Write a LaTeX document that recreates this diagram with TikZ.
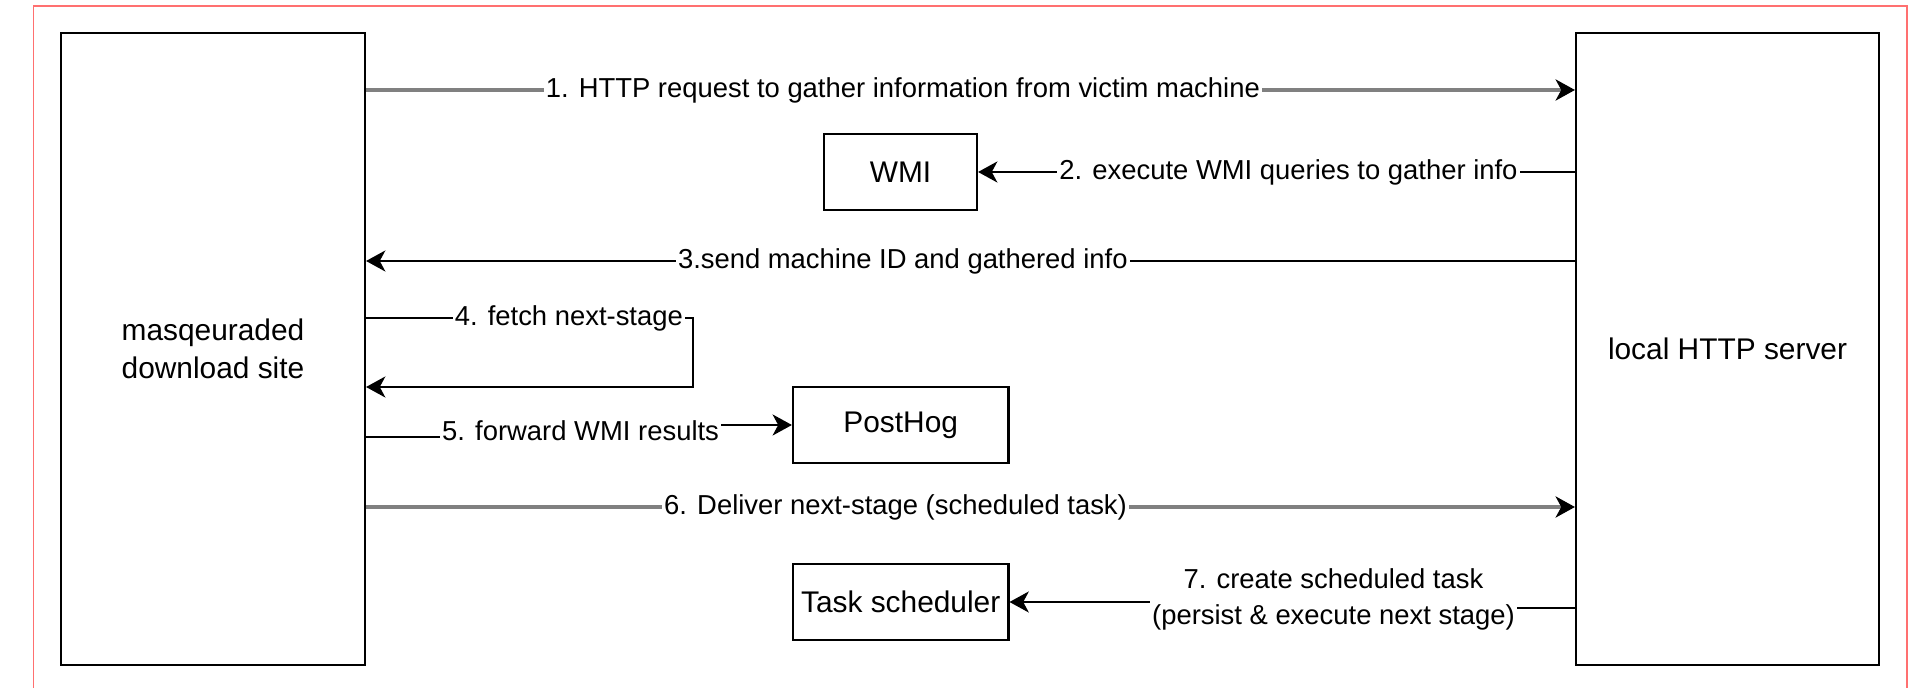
\documentclass[tikz,border=0pt]{standalone}
\usepackage{fontspec}
\setmainfont{Liberation Sans}
\usepackage{xcolor}
\usetikzlibrary{arrows.meta,positioning}

\definecolor{framered}{RGB}{255,112,112}

\begin{document}
\begin{tikzpicture}[
    box/.style={draw, line width=0.6pt, minimum height=0.76cm, inner sep=1pt,
        font=\fontsize{8.5}{10.8}\selectfont},
    tallbox/.style={box, minimum width=3.04cm, minimum height=6.32cm, align=center},
    link/.style={line width=0.5pt, -{Stealth[length=5.5pt,width=6pt,inset=1.6pt]}},
    glink/.style={draw=black!50, line width=0.9pt,
        -{Stealth[black,length=5.5pt,width=6pt,inset=1.6pt]}},
    lbl/.style={fill=white, inner sep=0.6pt, font=\fontsize{7.8}{10.2}\selectfont}
]
    \useasboundingbox (0,0) rectangle (19.23,6.87);

    % Outer frame
    \draw[framered, line width=0.45pt] (0.335,-0.2) rectangle (19.07,6.81);

    % Tall boxes
    \node[tallbox] (site) at (2.13,3.38) {masqeuraded\\download site};
    \node[tallbox, minimum width=3.03cm] (server) at (17.275,3.38) {local HTTP server};

    % Small boxes
    \node[box, minimum width=1.53cm] (wmi) at (9.005,5.15) {WMI};
    \node[box, minimum width=2.155cm] (posthog) at (9.007,2.62) {PostHog};
    \node[box, minimum width=2.155cm] (tasks) at (9.007,0.85) {Task scheduler};

    % 1. request
    \draw[glink] (site.east |- 0,5.97) -- node[lbl, pos=0.444]
        {1. HTTP request to gather information from victim machine} (server.west |- 0,5.97);

    % 2. WMI queries
    \draw[link] (server.west |- wmi) -- node[lbl, pos=0.48]
        {2. execute WMI queries to gather info} (wmi.east);

    % 3. send info back
    \draw[link] (server.west |- 0,4.26) -- node[lbl, pos=0.556]
        {3.send machine ID and gathered info} (site.east |- 0,4.26);

    % 4. loop back to the site
    \draw[link] (site.east |- 0,3.69) -- node[lbl, pos=0.62] {4. fetch next-stage} ++(3.27,0)
        |- (site.east |- 0,3.00);

    % 5. forward to PostHog
    \draw[link] (site.east |- 0,2.50) -- ++(2.145,0) -- node[lbl] {5. forward WMI results}
        ++(0,0.12) -- (posthog.west);

    % 6. deliver next stage
    \draw[glink] (site.east |- 0,1.80) -- node[lbl, pos=0.438]
        {6. Deliver next-stage (scheduled task)} (server.west |- 0,1.80);

    % 7. scheduled task
    \draw[link] (server.west |- 0,0.79) -- ++(-2.415,0) -- node[lbl, align=center, yshift=0.055cm]
        {7. create scheduled task\\(persist \& execute next stage)} ++(0,0.06) -- (tasks.east);
\end{tikzpicture}
\end{document}
